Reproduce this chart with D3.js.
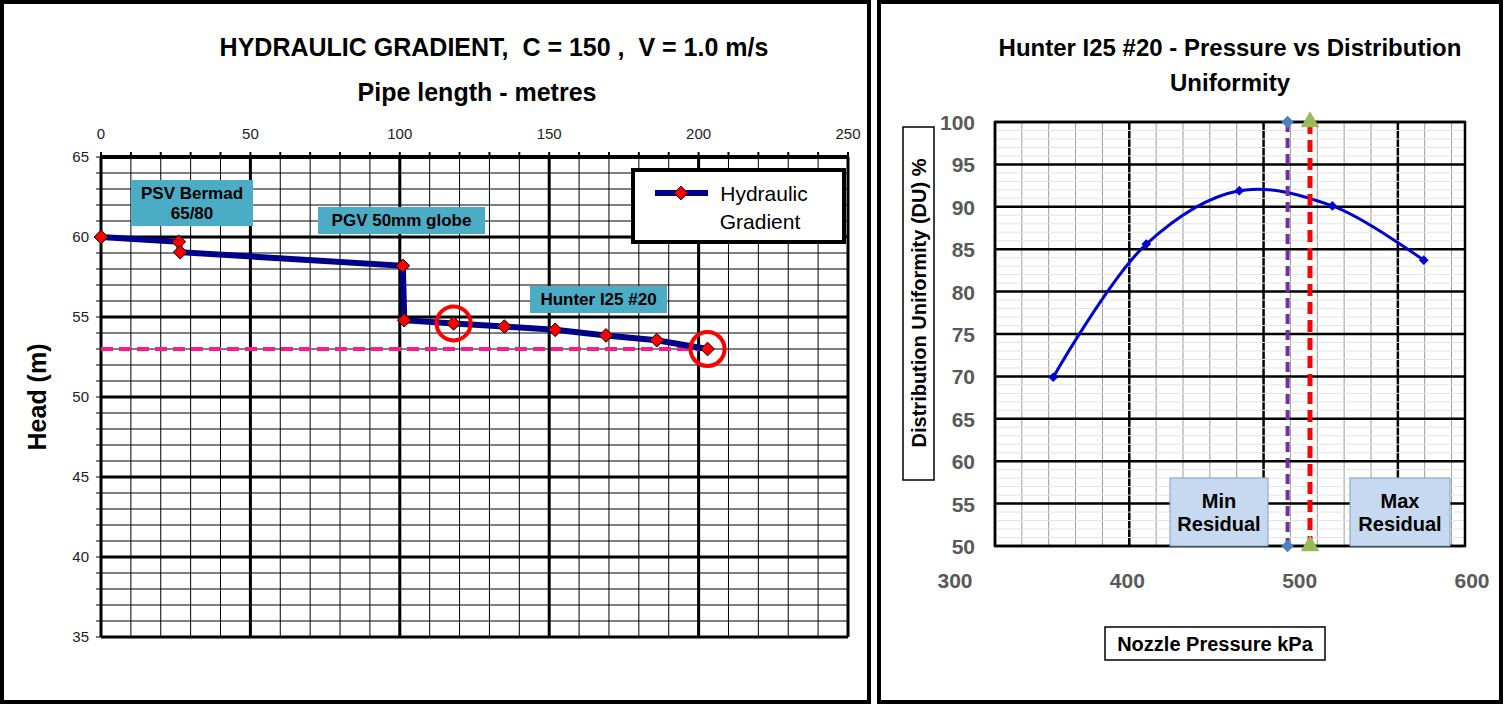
<!DOCTYPE html>
<html><head><meta charset="utf-8">
<script src="https://cdn.jsdelivr.net/npm/d3@7"></script>
<style>body{margin:0;background:#fff;font-family:Arial,"Liberation Sans",sans-serif}</style>
</head><body>
<script>
// left chart data
const lengths = [0, 26, 26.5, 101, 101.5, 118, 135, 152, 169, 186, 203];
const heads = [60, 59.7, 59.05, 58.2, 54.8, 54.6, 54.4, 54.2, 53.85, 53.55, 53.0];
const residualHead = 53;
const circled = [5, 10];
const lenTicks = [0, 50, 100, 150, 200, 250];
const headTicks = [35, 40, 45, 50, 55, 60, 65];
// right chart data
const pressures = [357, 411, 465, 519, 572];
const du = [69.9, 85.6, 91.9, 90.1, 83.7];
const minResidual = 493, maxResidual = 506;
const kpaTicks = [300, 400, 500, 600];
const duTicks = [50, 55, 60, 65, 70, 75, 80, 85, 90, 95, 100];

const svg = d3.select("body").append("svg").attr("width", 1504).attr("height", 706);
svg.append("rect").attr("x", 2).attr("y", 2).attr("width", 867).attr("height", 700)
    .attr("fill", "none").attr("stroke", "#000").attr("stroke-width", 4);
svg.append("rect").attr("x", 879).attr("y", 2).attr("width", 622).attr("height", 700)
    .attr("fill", "none").attr("stroke", "#000").attr("stroke-width", 4);

// ---- left
const x = d3.scaleLinear().domain([0, 250]).range([101, 848]);
const y = d3.scaleLinear().domain([35, 65]).range([637, 157]);
const L = svg.append("g");
d3.range(0, 251, 10).forEach(v => L.append("line").attr("x1", x(v)).attr("x2", x(v))
    .attr("y1", y(65)).attr("y2", y(35)).attr("stroke", "#000")
    .attr("stroke-width", v % 50 === 0 ? 3 : 1));
d3.range(35, 66, 1).forEach(v => L.append("line").attr("x1", x(0)).attr("x2", x(250))
    .attr("y1", y(v)).attr("y2", y(v)).attr("stroke", "#000")
    .attr("stroke-width", v === 65 ? 4 : (v % 5 === 0 ? 3 : 1)));
d3.range(0, 251, 10).forEach(v => L.append("line").attr("x1", x(v)).attr("x2", x(v))
    .attr("y1", y(65) - 5).attr("y2", y(65)).attr("stroke", "#000").attr("stroke-width", 2));
d3.range(35, 66, 1).forEach(v => L.append("line").attr("x1", x(0) - 5).attr("x2", x(0))
    .attr("y1", y(v)).attr("y2", y(v)).attr("stroke", "#000").attr("stroke-width", 1));
L.selectAll(".tx").data(lenTicks).join("text").attr("x", d => x(d)).attr("y", 139)
    .attr("text-anchor", "middle").attr("font-size", 15).attr("fill", "#222").text(d => d);
L.selectAll(".ty").data(headTicks).join("text").attr("x", 89).attr("y", d => y(d) + 5)
    .attr("text-anchor", "end").attr("font-size", 15).attr("fill", "#222").text(d => d);
L.append("text").attr("transform", "translate(46,397) rotate(-90)").attr("text-anchor", "middle")
    .attr("font-size", 25).attr("font-weight", "bold").text("Head (m)");
L.append("text").attr("x", 494).attr("y", 56).attr("text-anchor", "middle").attr("font-size", 25)
    .attr("font-weight", "bold").attr("xml:space", "preserve").text("HYDRAULIC GRADIENT,  C = 150 ,  V = 1.0 m/s");
L.append("text").attr("x", 477).attr("y", 101).attr("text-anchor", "middle").attr("font-size", 25)
    .attr("font-weight", "bold").text("Pipe length - metres");
L.append("line").attr("x1", x(0)).attr("x2", x(203)).attr("y1", y(residualHead)).attr("y2", y(residualHead))
    .attr("stroke", "#ff1a8c").attr("stroke-width", 4).attr("stroke-dasharray", "12,6");
const pts = lengths.map((d, i) => [d, heads[i]]);
L.append("path").attr("d", d3.line().x(d => x(d[0])).y(d => y(d[1]))(pts))
    .attr("fill", "none").attr("stroke", "#00008b").attr("stroke-width", 6);
const diamond = d3.symbol().type(d3.symbolDiamond2).size(120);
L.selectAll(".pt").data(pts).join("path").attr("d", diamond)
    .attr("transform", d => `translate(${x(d[0])},${y(d[1])})`)
    .attr("fill", "#ff0000").attr("stroke", "#000").attr("stroke-width", 1);
circled.forEach(i => L.append("circle").attr("cx", x(lengths[i])).attr("cy", y(heads[i]))
    .attr("r", 17).attr("fill", "none").attr("stroke", "#ff0000").attr("stroke-width", 4));
function label(g, x0, y0, w, h, lines, fill, fs) {
  g.append("rect").attr("x", x0).attr("y", y0).attr("width", w).attr("height", h).attr("fill", fill);
  lines.forEach((t, i) => g.append("text").attr("x", x0 + w / 2)
      .attr("y", y0 + h / 2 + (i - (lines.length - 1) / 2) * (fs + 3) + fs * 0.35)
      .attr("text-anchor", "middle").attr("font-size", fs).attr("font-weight", "bold").text(t));
}
label(L, 131, 180, 122, 46, ["PSV Bermad", "65/80"], "#4bacc6", 17);
label(L, 318, 207, 167, 27, ["PGV 50mm globe"], "#4bacc6", 17);
label(L, 530, 286, 137, 27, ["Hunter I25 #20"], "#4bacc6", 17);
L.append("rect").attr("x", 633).attr("y", 170).attr("width", 211).attr("height", 72)
    .attr("fill", "#fff").attr("stroke", "#000").attr("stroke-width", 4);
L.append("line").attr("x1", 655).attr("x2", 708).attr("y1", 193).attr("y2", 193)
    .attr("stroke", "#00008b").attr("stroke-width", 6);
L.append("path").attr("d", diamond).attr("transform", "translate(681,193)")
    .attr("fill", "#ff0000").attr("stroke", "#000");
L.append("text").attr("x", 764).attr("y", 201).attr("text-anchor", "middle").attr("font-size", 21).text("Hydraulic");
L.append("text").attr("x", 760).attr("y", 229).attr("text-anchor", "middle").attr("font-size", 21).text("Gradient");

// ---- right
const R = svg.append("g");
const gx = d3.scaleLinear().domain([0, 3.5]).range([995, 1465]);
const px = d3.scaleLinear().domain([300, 600]).range([955, 1472]);
const py = d3.scaleLinear().domain([50, 100]).range([546, 122]);
d3.range(0, 100).map(i => i * 0.2).filter(v => v < 3.5).forEach(v => {
  const maj = Math.abs(v - Math.round(v)) < 1e-6;
  R.append("line").attr("x1", gx(v)).attr("x2", gx(v)).attr("y1", py(100)).attr("y2", py(50))
      .attr("stroke", maj ? "#000" : "#999").attr("stroke-width", maj ? 2.5 : 1);
});
d3.range(50, 101, 1).forEach(v => R.append("line").attr("x1", gx(0)).attr("x2", gx(3.5))
    .attr("y1", py(v)).attr("y2", py(v)).attr("stroke", v % 5 === 0 ? "#000" : "#e4e4e4")
    .attr("stroke-width", v % 5 === 0 ? 2.5 : 1));
R.append("rect").attr("x", gx(0)).attr("y", py(100)).attr("width", gx(3.5) - gx(0))
    .attr("height", py(50) - py(100)).attr("fill", "none").attr("stroke", "#000").attr("stroke-width", 2.5);
R.selectAll(".dy").data(duTicks).join("text").attr("x", 975).attr("y", d => py(d) + 8)
    .attr("text-anchor", "end").attr("font-size", 21).attr("font-weight", "bold").attr("fill", "#595959").text(d => d);
R.selectAll(".dx").data(kpaTicks).join("text").attr("x", d => px(d)).attr("y", 588)
    .attr("text-anchor", "middle").attr("font-size", 21).attr("font-weight", "bold").attr("fill", "#595959").text(d => d);
R.append("text").attr("x", 1230).attr("y", 56).attr("text-anchor", "middle").attr("font-size", 24)
    .attr("font-weight", "bold").text("Hunter I25 #20 - Pressure vs Distribution");
R.append("text").attr("x", 1230).attr("y", 91).attr("text-anchor", "middle").attr("font-size", 24)
    .attr("font-weight", "bold").text("Uniformity");
R.append("rect").attr("x", 903).attr("y", 127).attr("width", 31).attr("height", 353)
    .attr("fill", "#fff").attr("stroke", "#000").attr("stroke-width", 1.5);
R.append("text").attr("transform", "translate(926,303) rotate(-90)").attr("text-anchor", "middle")
    .attr("font-size", 20).attr("font-weight", "bold").text("Distribution Uniformity (DU) %");
R.append("rect").attr("x", 1105).attr("y", 627).attr("width", 220).attr("height", 33)
    .attr("fill", "#fff").attr("stroke", "#000").attr("stroke-width", 1.5);
R.append("text").attr("x", 1215).attr("y", 651).attr("text-anchor", "middle")
    .attr("font-size", 20).attr("font-weight", "bold").text("Nozzle Pressure kPa");
const dpts = pressures.map((d, i) => [d, du[i]]);
R.append("path").attr("d", d3.line().curve(d3.curveCatmullRom).x(d => px(d[0])).y(d => py(d[1]))(dpts))
    .attr("fill", "none").attr("stroke", "#0000d0").attr("stroke-width", 3);
R.selectAll(".dp").data(dpts).join("path").attr("d", d3.symbol().type(d3.symbolDiamond2).size(60))
    .attr("transform", d => `translate(${px(d[0])},${py(d[1])})`).attr("fill", "#0000d0");
label(R, 1170, 478, 98, 68, ["Min", "Residual"], "#c6d9f1", 20);
label(R, 1350, 478, 100, 68, ["Max", "Residual"], "#c6d9f1", 20);
R.selectAll("rect").filter(function () { return this.getAttribute("fill") === "#c6d9f1"; })
    .attr("stroke", "#7f9fc8").attr("stroke-width", 1);
R.append("line").attr("x1", px(minResidual)).attr("x2", px(minResidual)).attr("y1", py(100)).attr("y2", py(50))
    .attr("stroke", "#7030a0").attr("stroke-width", 4).attr("stroke-dasharray", "10,6");
R.append("line").attr("x1", px(maxResidual)).attr("x2", px(maxResidual)).attr("y1", py(100)).attr("y2", py(50))
    .attr("stroke", "#ff0000").attr("stroke-width", 5).attr("stroke-dasharray", "12,6");
[100, 50].forEach(v => {
  R.append("path").attr("d", d3.symbol().type(d3.symbolDiamond2).size(100))
      .attr("transform", `translate(${px(minResidual)},${py(v)})`).attr("fill", "#4f81bd");
  R.append("path").attr("d", d3.symbol().type(d3.symbolTriangle).size(150))
      .attr("transform", `translate(${px(maxResidual)},${py(v)})`).attr("fill", "#9bbb59");
});
</script>
</body></html>
